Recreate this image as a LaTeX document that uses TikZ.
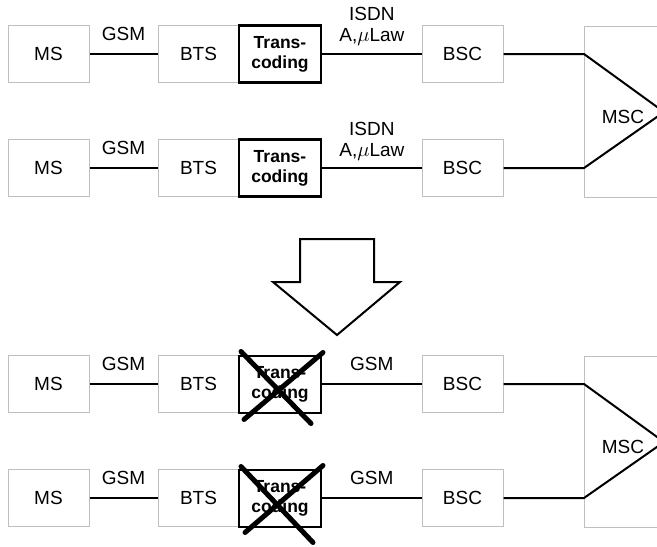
\documentclass[tikz,border=0pt]{standalone}
\usepackage{fontspec}
\setmainfont{Liberation Sans}
\usetikzlibrary{calc}
\newcommand{\bigmu}{{\fontsize{22}{22}\selectfont$\mu$}}
\tikzset{
  netbox/.style={draw=gray!50, line width=1pt, minimum width=81pt, minimum height=57pt, inner sep=0pt, font=\fontsize{19}{21}\selectfont},
  tcbox/.style={draw=black, line width=2.4pt, minimum width=82pt, minimum height=57pt, inner sep=0pt, align=center, font=\bfseries\fontsize{17.5}{20}\selectfont},
  conn/.style={line width=2pt},
  lbl/.style={font=\fontsize{19}{20}\selectfont, align=center, inner sep=0pt},
  crossout/.style={line width=5pt, line cap=round},
}
\begin{document}
\begin{tikzpicture}[x=1pt, y=-1pt]
    \useasboundingbox (0,0) rectangle (657,547);
    \clip (0,0) rectangle (657,547);

    % 上半部分
    \node[netbox] (ms1) at (48.5,54) {MS};
    \node[netbox] (bts1) at (198.5,54) {BTS};
    \node[tcbox] (tc1) at (280,54) {Trans-\\coding};
    \node[netbox] (bsc1) at (462.5,54) {BSC};
    \node[netbox] (ms2) at (48.5,168) {MS};
    \node[netbox] (bts2) at (198.5,168) {BTS};
    \node[tcbox] (tc2) at (280,168) {Trans-\\coding};
    \node[netbox] (bsc2) at (462.5,168) {BSC};
    \node[netbox, minimum width=160pt, minimum height=171pt, anchor=north west] (msc1) at (584,26) {};
    \node[lbl] (msct1) at (623,117) {MSC};
    \coordinate (tip1) at ($(msc1.west)+(80,0)$);

    % 连线
    \draw[conn] (ms1) -- (bts1) node[lbl, midway, above=12pt] {GSM};
    \draw[conn] (ms2) -- (bts2) node[lbl, midway, above=12pt] {GSM};
    \draw[conn] (tc1) -- (bsc1) node[lbl, midway, above=7pt] {ISDN\\[1pt]A,\bigmu Law};
    \draw[conn] (tc2) -- (bsc2) node[lbl, midway, above=6pt] {ISDN\\[1pt]A,\bigmu Law};
    \draw[conn] (bsc1) -- (bsc1 -| msc1.west) -- (tip1) -- (bsc2 -| msc1.west) -- (bsc2);

    % 箭头
    \draw[line width=2pt, fill=white] (300,239) -- (374,239) -- (374,282) -- (400,282) -- (337,335) -- (273,282) -- (300,282) -- cycle;

    % 下半部分
    \node[netbox] (ms3) at (48.5,384) {MS};
    \node[netbox] (bts3) at (198.5,384) {BTS};
    \node[tcbox, line width=2pt] (tc3) at (280,384) {Trans-\\coding};
    \node[netbox] (bsc3) at (462.5,384) {BSC};
    \node[netbox] (ms4) at (48.5,498) {MS};
    \node[netbox] (bts4) at (198.5,498) {BTS};
    \node[tcbox, line width=2pt] (tc4) at (280,498) {Trans-\\coding};
    \node[netbox] (bsc4) at (462.5,498) {BSC};
    \node[netbox, minimum width=160pt, minimum height=171pt, anchor=north west] (msc2) at (584,356) {};
    \node[lbl] (msct2) at (623,447) {MSC};
    \coordinate (tip2) at ($(msc2.west)+(80,0)$);

    % 连线
    \draw[conn] (ms3) -- (bts3) node[lbl, midway, above=12pt] {GSM};
    \draw[conn] (ms4) -- (bts4) node[lbl, midway, above=12pt] {GSM};
    \draw[conn] (tc3) -- (bsc3) node[lbl, midway, above=12pt] {GSM};
    \draw[conn] (tc4) -- (bsc4) node[lbl, midway, above=12pt] {GSM};
    \draw[conn] (bsc3) -- (bsc3 -| msc2.west) -- (tip2) -- (bsc4 -| msc2.west) -- (bsc4);

    % 划掉
    \draw[crossout] ($(tc3.north west)+(3,-3)$) -- ($(tc3.south east)+(-11,10)$);
    \draw[crossout] ($(tc3.north east)+(1,-2)$) -- ($(tc3.south west)+(6,6)$);
    \draw[crossout] ($(tc4.north west)+(3,-2)$) -- ($(tc4.south east)+(-9,15)$);
    \draw[crossout] ($(tc4.north east)+(1,-3)$) -- ($(tc4.south west)+(7,5)$);
\end{tikzpicture}
\end{document}
